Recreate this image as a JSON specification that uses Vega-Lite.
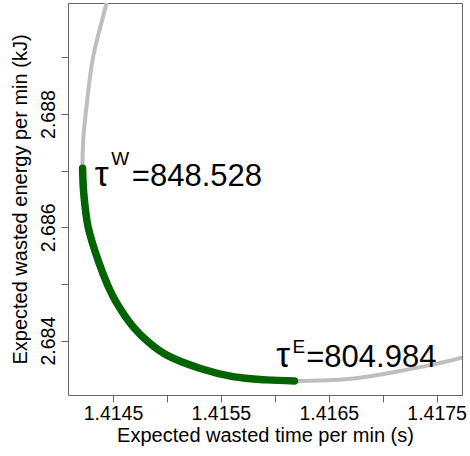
{
  "$schema": "https://vega.github.io/schema/vega-lite/v6.json",
  "width": 394,
  "height": 392,
  "autosize": {"type": "none"},
  "padding": {"left": 68, "top": 3, "right": 8, "bottom": 61},
  "config": {
    "view": {"stroke": "#666", "strokeWidth": 1},
    "font": "Liberation Sans",
    "axis": {
      "grid": false,
      "domain": false,
      "tickColor": "#666",
      "tickSize": 7,
      "labelColor": "#000",
      "titleColor": "#000",
      "labelFontSize": 19.5,
      "titleFontSize": 20,
      "titleFontWeight": "normal",
      "labelFont": "Liberation Sans",
      "titleFont": "Liberation Sans",
      "labelOverlap": false,
      "labelFlush": false
    }
  },
  "datasets": {
    "curve": [
      {"i": 1, "part": "upper", "x": 1.414451, "y": 2.690097},
      {"i": 2, "part": "upper", "x": 1.414439, "y": 2.689956},
      {"i": 3, "part": "upper", "x": 1.414315, "y": 2.688998},
      {"i": 4, "part": "upper", "x": 1.414247, "y": 2.688},
      {"i": 5, "part": "upper", "x": 1.414224, "y": 2.68754},
      {"i": 6, "part": "green", "x": 1.414218, "y": 2.687041},
      {"i": 7, "part": "green", "x": 1.414229, "y": 2.6866},
      {"i": 8, "part": "green", "x": 1.414269, "y": 2.686011},
      {"i": 9, "part": "green", "x": 1.414361, "y": 2.685423},
      {"i": 10, "part": "green", "x": 1.414454, "y": 2.684965},
      {"i": 11, "part": "green", "x": 1.414531, "y": 2.684674},
      {"i": 12, "part": "green", "x": 1.414685, "y": 2.684247},
      {"i": 13, "part": "green", "x": 1.41484, "y": 2.683954},
      {"i": 14, "part": "green", "x": 1.414994, "y": 2.683748},
      {"i": 15, "part": "green", "x": 1.415303, "y": 2.683513},
      {"i": 16, "part": "green", "x": 1.415611, "y": 2.683365},
      {"i": 17, "part": "green", "x": 1.41592, "y": 2.683307},
      {"i": 18, "part": "green", "x": 1.416182, "y": 2.683289},
      {"i": 19, "part": "lower", "x": 1.416754, "y": 2.683337},
      {"i": 20, "part": "lower", "x": 1.417217, "y": 2.683483},
      {"i": 21, "part": "lower", "x": 1.417729, "y": 2.683695},
      {"i": 22, "part": "lower", "x": 1.417803, "y": 2.683739}
    ],
    "labels": [
      {"k": "tau", "x": 1.414331, "y": 2.686728, "t": "τ"},
      {"k": "sup", "x": 1.414485, "y": 2.687099, "t": "W"},
      {"k": "main", "x": 1.414675, "y": 2.686728, "t": "=848.528"},
      {"k": "tau", "x": 1.416013, "y": 2.683541, "t": "τ"},
      {"k": "sup", "x": 1.416164, "y": 2.683783, "t": "E"},
      {"k": "main", "x": 1.416291, "y": 2.683541, "t": "=804.984"}
    ]
  },
  "encoding": {
    "x": {
      "field": "x",
      "type": "quantitative",
      "scale": {"domain": [1.414083, 1.417735], "nice": false, "zero": false},
      "axis": {
        "title": "Expected wasted time per min (s)",
        "values": [1.4145, 1.415, 1.4155, 1.416, 1.4165, 1.417, 1.4175],
        "labelExpr": "slice(format(datum.value, '.4f'), 5) == '5' ? format(datum.value, '.4f') : ''",
        "labelBaseline": "alphabetic",
        "labelPadding": 17,
        "titleBaseline": "alphabetic",
        "titleX": 197,
        "titleY": 46,
        "titleAlign": "center"
      }
    },
    "y": {
      "field": "y",
      "type": "quantitative",
      "scale": {"domain": [2.68304, 2.68996], "nice": false, "zero": false},
      "axis": {
        "title": "Expected wasted energy per min (kJ)",
        "values": [2.684, 2.685, 2.686, 2.687, 2.688, 2.689],
        "labelExpr": "indexof(['4','6','8'], slice(format(datum.value, '.3f'), 4)) >= 0 ? format(datum.value, '.3f') : ''",
        "labelAngle": -90,
        "labelAlign": "center",
        "labelBaseline": "alphabetic",
        "labelPadding": 7,
        "titleAngle": -90,
        "titleBaseline": "alphabetic",
        "titleAlign": "center",
        "titleX": -42,
        "titleY": 196
      }
    }
  },
  "layer": [
    {
      "data": {"name": "curve"},
      "mark": {"type": "line", "color": "#BEBEBE", "strokeWidth": 4, "strokeCap": "round", "interpolate": "catmull-rom", "clip": true},
      "encoding": {"order": {"field": "i", "type": "quantitative"}}
    },
    {
      "data": {"name": "curve"},
      "transform": [{"filter": "datum.part == 'green'"}],
      "mark": {"type": "line", "color": "#006400", "strokeWidth": 7.5, "strokeCap": "round", "interpolate": "catmull-rom", "clip": true},
      "encoding": {"order": {"field": "i", "type": "quantitative"}}
    },
    {
      "data": {"name": "labels"},
      "transform": [{"filter": "datum.k == 'tau'"}],
      "mark": {"type": "text", "fontSize": 35, "align": "left", "baseline": "alphabetic", "color": "#000"},
      "encoding": {"text": {"field": "t"}}
    },
    {
      "data": {"name": "labels"},
      "transform": [{"filter": "datum.k == 'main'"}],
      "mark": {"type": "text", "fontSize": 31, "align": "left", "baseline": "alphabetic", "color": "#000"},
      "encoding": {"text": {"field": "t"}}
    },
    {
      "data": {"name": "labels"},
      "transform": [{"filter": "datum.k == 'sup'"}],
      "mark": {"type": "text", "fontSize": 19, "align": "left", "baseline": "alphabetic", "color": "#000"},
      "encoding": {"text": {"field": "t"}}
    }
  ]
}
